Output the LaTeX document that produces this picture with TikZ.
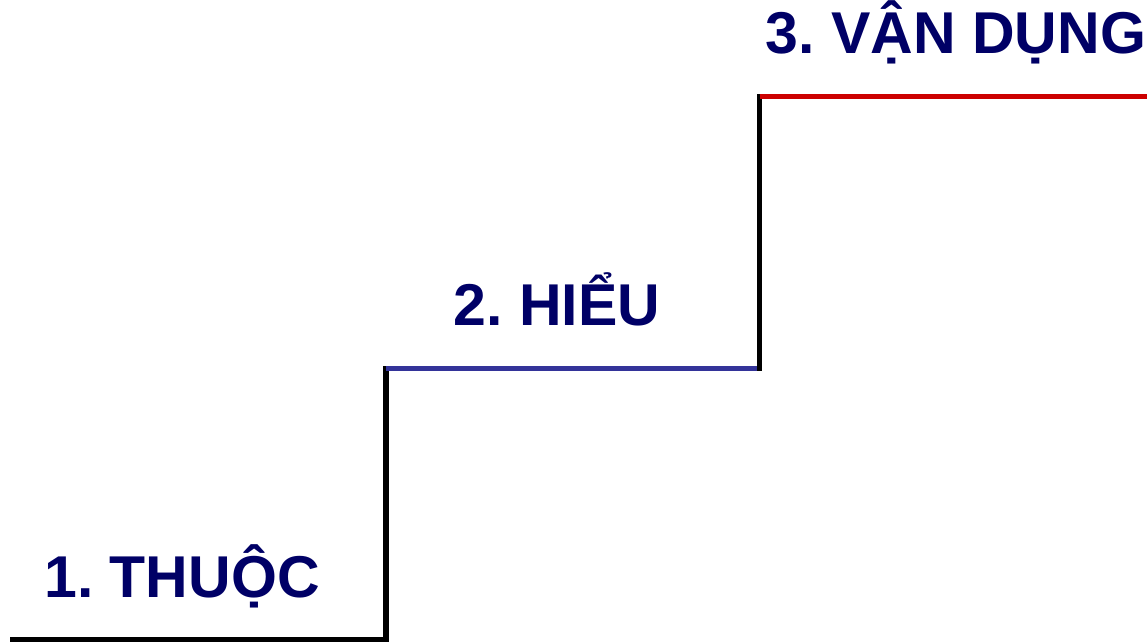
\documentclass[tikz,border=0pt]{standalone}
\usepackage{fontspec}
\setmainfont{Liberation Sans}
\frenchspacing
\definecolor{navy}{HTML}{000066}
\definecolor{stepblue}{HTML}{333399}
\definecolor{stepred}{HTML}{CC0000}
\begin{document}
\begin{tikzpicture}[x=1pt,y=-1pt,
  lbl/.style={anchor=base, inner sep=0pt, text=navy, font=\fontsize{59}{64}\selectfont\bfseries},
  stair/.style={line width=5.5pt, line cap=rect, line join=miter}]
\useasboundingbox (0,0) rectangle (1147,643);
\coordinate (p0) at (13,639.5);
\coordinate (p1) at (386,639.5);
\coordinate (p2) at (386,368.5);
\coordinate (p3) at (759.5,368.5);
\coordinate (p4) at (759.5,96.5);
\coordinate (p5) at (1149,96.5);
\draw[stair, black] (p0) -- (p1) -- (p2);
\draw[line width=5.5pt, stepblue] (p2) -- (p3);
\draw[stair, black] (p3) -- (p4);
\draw[line width=5.5pt, stepred] (p4) -- (p5);
\node[lbl] (t1) at (182,597) {1. THUỘC};
\node[lbl] (t2) at (557,325) {2. HIỂU};
\node[lbl] (t3) at (956,53) {3. VẬN DỤNG};
\end{tikzpicture}
\end{document}
